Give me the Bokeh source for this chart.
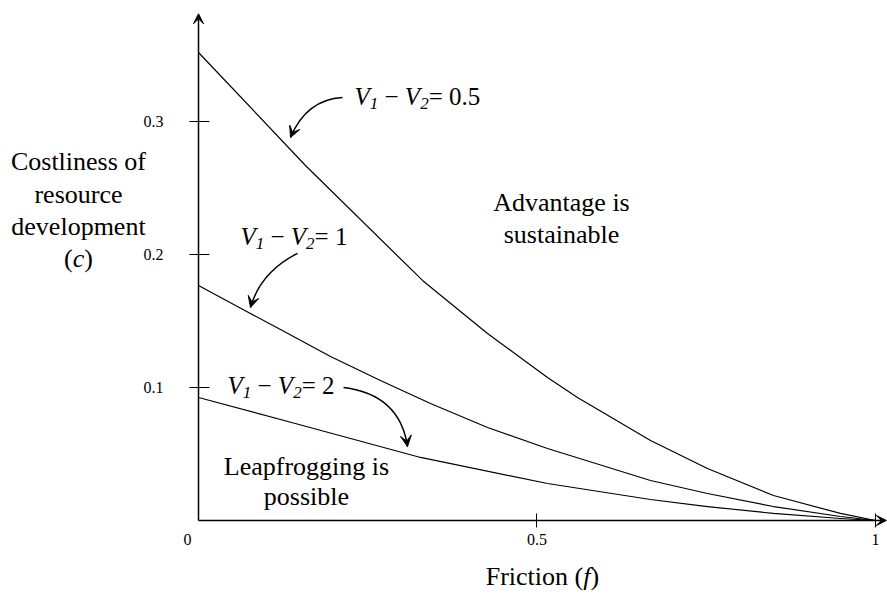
from bokeh.plotting import figure
from bokeh.models import Range1d, FixedTicker, Label, Arrow, VeeHead
from bokeh.embed import file_html
from bokeh.resources import INLINE

# ---- data ----
friction_a = [0.0, 0.158, 0.3309, 0.4269, 0.5155, 0.5598, 0.6677, 0.7518, 0.8493, 0.9483, 1.0]
cost_a = [0.3519, 0.2669, 0.1805, 0.1406, 0.1075, 0.0925, 0.0602, 0.0391, 0.0188, 0.0053, 0.0]  # V1-V2 = 0.5

friction_b = [0.0, 0.0739, 0.1211, 0.195, 0.2688, 0.3427, 0.4269, 0.5155, 0.6677, 0.7518, 0.8493, 0.9483, 1.0]
cost_b = [0.1767, 0.1564, 0.1436, 0.1233, 0.1053, 0.088, 0.0699, 0.0541, 0.0301, 0.0203, 0.0105, 0.003, 0.0]  # V1-V2 = 1

friction_c = [0.0, 0.143, 0.328, 0.5155, 0.6677, 0.7518, 0.8493, 0.9483, 1.0]
cost_c = [0.0925, 0.0729, 0.0474, 0.0278, 0.0158, 0.0105, 0.0053, 0.0015, 0.0]  # V1-V2 = 2

x_ticks = [0.5, 1.0]
x_tick_labels = ["0.5", "1"]
y_ticks = [0.1, 0.2, 0.3]
y_tick_labels = ["0.1", "0.2", "0.3"]

SERIF = "Liberation Serif"

p = figure(width=887, height=594, output_backend="svg", toolbar_location=None,
           x_range=Range1d(-0.29247, 1.01773), y_range=Range1d(-0.05564, 0.39098),
           min_border_left=0, min_border_right=0, min_border_top=0, min_border_bottom=0)
p.title.visible = False
p.outline_line_color = None
p.xgrid.visible = False
p.ygrid.visible = False
p.background_fill_color = "white"
p.border_fill_color = "white"

for ax in (p.xaxis[0], p.yaxis[0]):
    ax.fixed_location = 0
    ax.axis_line_color = None
    ax.minor_tick_line_color = None
    ax.major_tick_line_color = "black"
    ax.major_tick_line_width = 1
    ax.major_label_text_font = SERIF
    ax.major_label_text_font_size = "16px"
    ax.major_label_text_color = "black"

p.xaxis.ticker = FixedTicker(ticks=x_ticks)
p.xaxis.major_label_overrides = dict(zip(x_ticks, x_tick_labels))
p.xaxis.major_tick_in = 7
p.xaxis.major_tick_out = 7
p.xaxis.major_label_standoff = 7

p.yaxis.ticker = FixedTicker(ticks=y_ticks)
p.yaxis.major_label_overrides = dict(zip(y_ticks, y_tick_labels))
p.yaxis.major_tick_in = 11
p.yaxis.major_tick_out = 9
p.yaxis.major_label_standoff = 26

# axis lines with arrow heads
p.add_layout(Arrow(x_start=0, y_start=0, x_end=0, y_end=0.381, line_width=1.5, line_color="black",
                   end=VeeHead(size=10, fill_color="black", line_color="black")))
p.add_layout(Arrow(x_start=0, y_start=0, x_end=1.016, y_end=0, line_width=1.5, line_color="black",
                   end=VeeHead(size=10, fill_color="black", line_color="black")))

# curves
for fx, cy in ((friction_a, cost_a), (friction_b, cost_b), (friction_c, cost_c)):
    p.line(fx, cy, line_color="black", line_width=1.2, line_join="round")

# ---- text helpers ----
W_REG = {" ": 250, "(": 333, ")": 333, "=": 564, "\u2212": 564, ".": 250,
         "F": 556, "r": 333, "i": 278, "c": 444, "t": 278, "o": 500, "n": 500}
W_IT = {"V": 611, "c": 444, "f": 278}
LIFT = 0.33  # baseline correction, fraction of font size


def tw(s, size, italic):
    table = W_IT if italic else W_REG
    return sum(table.get(ch, 500) for ch in s) * size / 1000.0


def rich(x, y, pieces, align="left"):
    total = sum(tw(t, s, it) for t, it, s, d in pieces)
    off = 0.0 if align == "left" else -total / 2.0
    for t, it, s, d in pieces:
        lead = len(t) - len(t.lstrip(" "))
        txt = t.strip(" ")
        if txt:
            p.add_layout(Label(x=x, y=y, text=txt, x_offset=off + tw(" " * lead, s, it),
                               y_offset=LIFT * s - d,
                               text_font=SERIF, text_font_size=f"{s}px",
                               text_font_style="italic" if it else "normal",
                               text_align="left", text_baseline="alphabetic", text_color="black"))
        off += tw(t, s, it)


def plain(x, y, txt, size=26, align="center"):
    p.add_layout(Label(x=x, y=y, text=txt, y_offset=LIFT * size, text_font=SERIF,
                       text_font_size=f"{size}px",
                       text_align=align, text_baseline="alphabetic", text_color="black"))


# origin label
p.add_layout(Label(x=-0.0162, y=-0.0105, text="0", text_font=SERIF, text_font_size="16px",
                   text_align="center", text_baseline="top", text_color="black"))

# axis titles
rich(0.508, -0.0489, [("Friction (", False, 26, 0), ("f", True, 26, 0), (")", False, 26, 0)], align="center")
plain(-0.1773, 0.2632, "Costliness of")
plain(-0.1773, 0.2383, "resource")
plain(-0.1773, 0.2143, "development")
rich(-0.1773, 0.1902, [("(", False, 26, 0), ("c", True, 26, 0), (")", False, 26, 0)], align="center")

# region texts
plain(0.5362, 0.2323, "Advantage is")
plain(0.5362, 0.2083, "sustainable")
plain(0.1595, 0.0338, "Leapfrogging is")
plain(0.1595, 0.0113, "possible")


def vlabel(x, y, rhs):
    rich(x, y, [("V", True, 25, 0), ("1", True, 17, 5), (" \u2212 ", False, 25, 0),
                ("V", True, 25, 0), ("2", True, 17, 5), ("= " + rhs, False, 25, 0)])


vlabel(0.2304, 0.3128, "0.5")
vlabel(0.062, 0.2075, "1")
vlabel(0.0428, 0.0955, "2")

# curved pointer arrows (start, control, end)
arrows = [
    (0.2127, 0.318, 0.1595, 0.3165, 0.1359, 0.288),
    (0.1462, 0.2008, 0.0919, 0.1869, 0.0768, 0.1602),
    (0.2142, 0.1000, 0.2975, 0.0947, 0.3087, 0.0556),
]
p.quadratic(x0=[a[0] for a in arrows], y0=[a[1] for a in arrows],
            cx=[a[2] for a in arrows], cy=[a[3] for a in arrows],
            x1=[a[4] for a in arrows], y1=[a[5] for a in arrows],
            line_color="black", line_width=1.5)
for x0, y0, cx, cy, x1, y1 in arrows:
    k = 0.15
    p.add_layout(Arrow(x_start=x1 - k * (x1 - cx), y_start=y1 - k * (y1 - cy), x_end=x1, y_end=y1,
                       line_width=1.5, line_color="black",
                       end=VeeHead(size=11, fill_color="black", line_color="black")))

open("out.html", "w").write(file_html(p, INLINE))
